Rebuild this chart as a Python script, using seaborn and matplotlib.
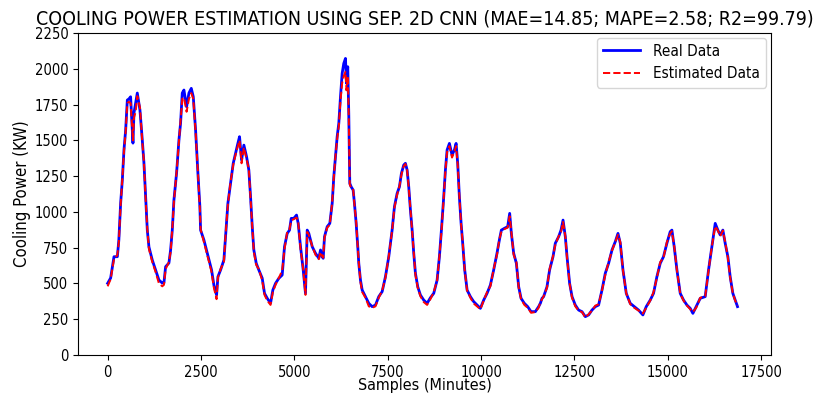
import pandas as pd
import matplotlib
matplotlib.use("Agg")
import matplotlib.pyplot as plt
import seaborn as sns

# Valores (muestras en minutos, potencia en KW)
samples = [0, 80, 170, 260, 300, 348, 393, 437, 482, 527,
           570, 615, 678, 705, 750, 794, 865, 928, 972, 1017,
           1062, 1106, 1195, 1284, 1373, 1463, 1507, 1552, 1641, 1686,
           1731, 1775, 1846, 1909, 1953, 1998, 2043, 2114, 2177, 2240,
           2293, 2355, 2417, 2470, 2489, 2578, 2667, 2783, 2845, 2917,
           2953, 3024, 3113, 3158, 3220, 3291, 3363, 3425, 3487, 3532,
           3586, 3648, 3720, 3781, 3827, 3872, 3915, 3979, 4049, 4139,
           4201, 4274, 4362, 4424, 4496, 4584, 4674, 4736, 4809, 4870,
           4916, 4985, 5058, 5103, 5165, 5237, 5298, 5344, 5387, 5479,
           5566, 5655, 5700, 5745, 5772, 5807, 5879, 5949, 6013, 6056,
           6101, 6146, 6190, 6235, 6280, 6323, 6369, 6395, 6430, 6457,
           6484, 6521, 6574, 6609, 6655, 6698, 6725, 6770, 6816, 6904,
           6993, 7083, 7172, 7260, 7351, 7439, 7528, 7618, 7680, 7752,
           7814, 7867, 7929, 7974, 8020, 8063, 8108, 8154, 8197, 8242,
           8304, 8376, 8464, 8555, 8643, 8732, 8823, 8884, 8938, 9000,
           9045, 9090, 9152, 9222, 9286, 9331, 9374, 9419, 9465, 9508,
           9562, 9626, 9714, 9802, 9893, 9981, 10070, 10160, 10249, 10337,
           10426, 10490, 10543, 10623, 10712, 10766, 10811, 10873, 10945, 11007,
           11071, 11159, 11248, 11338, 11453, 11541, 11587, 11632, 11675, 11765,
           11835, 11926, 11988, 12077, 12141, 12195, 12256, 12302, 12371, 12436,
           12523, 12612, 12703, 12791, 12880, 12970, 13059, 13147, 13238, 13326,
           13415, 13506, 13594, 13666, 13728, 13800, 13888, 13995, 14102, 14217,
           14333, 14423, 14530, 14618, 14708, 14798, 14885, 14976, 15065, 15110,
           15172, 15245, 15333, 15422, 15513, 15601, 15672, 15761, 15868, 16002,
           16091, 16180, 16270, 16341, 16404, 16475, 16537, 16609, 16671, 16742,
           16805, 16867]

real = [501, 538, 687, 687, 804, 1062, 1223, 1433, 1572, 1782,
        1790, 1805, 1481, 1691, 1760, 1831, 1712, 1502, 1342, 1104,
        873, 755, 664, 594, 524, 503, 503, 617, 643, 734,
        873, 1083, 1272, 1502, 1621, 1831, 1852, 1735, 1831, 1864,
        1805, 1572, 1272, 1037, 873, 804, 713, 594, 489, 419,
        547, 594, 664, 827, 1060, 1200, 1340, 1410, 1479, 1526,
        1363, 1467, 1386, 1293, 1106, 897, 734, 641, 594, 537,
        431, 396, 361, 454, 501, 536, 559, 757, 850, 873,
        955, 955, 978, 920, 757, 594, 431, 873, 850, 757,
        711, 676, 734, 687, 676, 827, 897, 920, 1060, 1246,
        1386, 1526, 1619, 1805, 1968, 2038, 2073, 1899, 2015, 1689,
        1200, 1176, 1153, 1060, 920, 757, 641, 524, 454, 408,
        361, 338, 349, 408, 443, 547, 687, 873, 1037, 1130,
        1176, 1270, 1328, 1340, 1293, 1176, 1013, 873, 711, 571,
        477, 419, 384, 361, 400, 431, 524, 687, 873, 1106,
        1293, 1433, 1479, 1398, 1433, 1479, 1340, 1106, 920, 781,
        594, 454, 408, 373, 349, 326, 384, 431, 489, 594,
        711, 804, 873, 885, 897, 990, 850, 711, 641, 477,
        396, 361, 338, 303, 303, 338, 361, 396, 408, 477,
        594, 687, 781, 827, 873, 943, 827, 687, 501, 408,
        349, 314, 303, 268, 280, 314, 338, 349, 454, 571,
        641, 734, 792, 850, 781, 594, 431, 361, 338, 314,
        280, 338, 384, 431, 547, 641, 687, 781, 862, 873,
        757, 594, 431, 384, 349, 326, 291, 338, 396, 408,
        594, 757, 920, 873, 839, 873, 781, 687, 547, 431,
        384, 338]

estimated = [480, 530, 670, 700, 790, 1050, 1230, 1420, 1560, 1760,
             1770, 1760, 1500, 1660, 1700, 1810, 1730, 1490, 1350, 1090,
             880, 740, 650, 580, 500, 480, 490, 600, 650, 720,
             880, 1070, 1280, 1490, 1630, 1790, 1800, 1700, 1790, 1830,
             1790, 1560, 1280, 1020, 880, 790, 700, 580, 470, 390,
             540, 600, 650, 840, 1050, 1210, 1330, 1400, 1460, 1500,
             1340, 1450, 1370, 1300, 1090, 900, 720, 630, 600, 520,
             420, 380, 350, 440, 490, 540, 590, 740, 860, 880,
             940, 950, 960, 930, 740, 600, 420, 860, 840, 760,
             700, 670, 720, 690, 680, 820, 890, 910, 1070, 1240,
             1390, 1510, 1600, 1780, 1900, 1950, 1980, 1850, 1950, 1670,
             1190, 1170, 1160, 1050, 930, 750, 650, 510, 440, 400,
             340, 330, 340, 400, 450, 540, 690, 870, 1030, 1120,
             1180, 1260, 1320, 1335, 1290, 1170, 1020, 860, 720, 560,
             470, 410, 370, 350, 390, 440, 520, 690, 860, 1100,
             1290, 1420, 1460, 1380, 1420, 1460, 1330, 1110, 910, 790,
             590, 450, 400, 360, 340, 320, 380, 440, 480, 600,
             700, 810, 860, 880, 890, 970, 860, 700, 650, 470,
             390, 350, 330, 295, 300, 330, 370, 390, 410, 470,
             600, 690, 770, 830, 860, 930, 830, 680, 500, 400,
             340, 310, 300, 262, 285, 310, 345, 355, 450, 560,
             650, 730, 790, 840, 790, 590, 430, 355, 330, 310,
             290, 330, 380, 440, 540, 650, 680, 790, 850, 865,
             760, 590, 430, 380, 345, 320, 300, 330, 400, 410,
             590, 760, 900, 870, 830, 870, 790, 680, 540, 430,
             380, 345]

df = pd.DataFrame({'sample': samples, 'real': real, 'estimated': estimated})

# el original tiene la letra estrechada
plt.rcParams['font.stretch'] = 'condensed'

fig = plt.figure(figsize=(8.14, 3.94), dpi=100)
ax = fig.add_axes([0.096, 0.099, 0.851, 0.817])

sns.lineplot(data=df, x='sample', y='real', color='blue', lw=2,
             label='Real Data', estimator=None, ax=ax)
sns.lineplot(data=df, x='sample', y='estimated', color='red', lw=1.4,
             linestyle='--', label='Estimated Data', estimator=None, ax=ax)

ax.set_ylim(0, 2250)
ax.set_yticks(range(0, 2251, 250))
ax.set_xticks(range(0, 17501, 2500))
ax.set_xlim(-790, 17760)
ax.tick_params(labelsize=10.5)
ax.set_xlabel('Samples (Minutes)', fontsize=11.5, labelpad=-1)
ax.set_ylabel('Cooling Power (KW)', fontsize=12, labelpad=3)
ax.set_title('COOLING POWER ESTIMATION USING SEP. 2D CNN (MAE=14.85; MAPE=2.58; R2=99.79)',
             fontsize=14)
ax.legend(loc='upper right', fontsize=11, borderaxespad=0.3,
          handlelength=2.4, handletextpad=0.9)

plt.savefig('out.png', dpi=100)
plt.close()
